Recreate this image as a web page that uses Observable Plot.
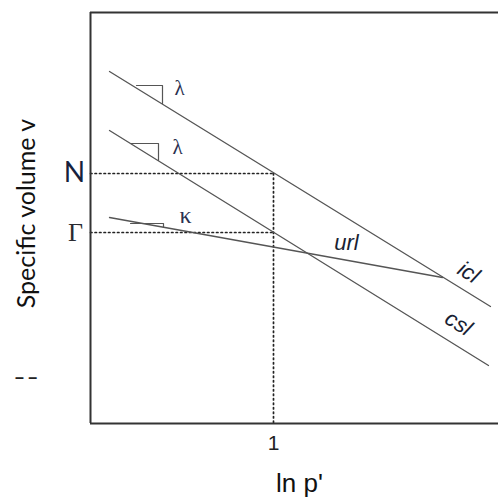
<!DOCTYPE html>
<html>
<head>
<meta charset="utf-8">
<script src="https://cdn.jsdelivr.net/npm/d3@7"></script>
<script src="https://cdn.jsdelivr.net/npm/@observablehq/plot@0.6"></script>
<style>
  html, body { margin: 0; padding: 0; background: #fff; }
  svg { display: block; }
</style>
</head>
<body>
<div id="chart"></div>
<script>
// ---- data (x = ln p', v = specific volume, arbitrary units) ----
const xDomain = [-0.83, 3.25];
const vDomain = [0, 4.11];
const xTicks = [1];
const xTickLabels = ["1"];
const vN = 2.5;       // N level
const vGamma = 1.91;  // Γ level
const pRef = 1;       // ln p' = 1
// straight lines: [x0, v0, x1, v1]
const icl = [-0.64, 3.52, 3.17, 1.17];
const csl = [-0.64, 2.93, 3.15, 0.58];
const url = [-0.64, 2.06, 2.69, 1.46];
// slope triangles: [xStart, vTop, xCorner, vBottom]
const lambdaTri1 = [-0.37, 3.38, -0.11, 3.20];
const lambdaTri2 = [-0.43, 2.80, -0.15, 2.63];
const kappaTri = [-0.43, 2.00, -0.10, 1.96];
// annotation labels: text, x, v
const greekLabels = [["λ", 0.06, 3.35], ["λ", 0.04, 2.76], ["κ", 0.12, 2.08]];
const lineLabels = [["url", 1.73, 1.81, 0], ["icl", 2.95, 1.51, 32], ["csl", 2.85, 1.0, 32]];
const levelLabels = [["N", -0.99, vN], ["Γ", -0.98, vGamma]];
const yTitle = "Specific volume v";
const xTitle = "ln p'";

const seg = (a, id) => [{x: a[0], v: a[1], id}, {x: a[2], v: a[3], id}];
const lineData = [...seg(icl, "icl"), ...seg(csl, "csl"), ...seg(url, "url")];
const tri = (t, id) => [{x: t[0], v: t[1], id}, {x: t[2], v: t[1], id}, {x: t[2], v: t[3], id}];
const triData = [...tri(lambdaTri1, "l1"), ...tri(lambdaTri2, "l2"), ...tri(kappaTri, "k")];
const dotted = [
  {x: xDomain[0], v: vN, id: "h1"}, {x: pRef, v: vN, id: "h1"},
  {x: xDomain[0], v: vGamma, id: "h2"}, {x: pRef, v: vGamma, id: "h2"},
  {x: pRef, v: vN, id: "vv"}, {x: pRef, v: vDomain[0], id: "vv"}
];

const chart = Plot.plot({
  width: 498,
  height: 500,
  marginLeft: 90,
  marginTop: 12,
  marginBottom: 77,
  marginRight: 0,
  x: {domain: xDomain},
  y: {domain: vDomain},
  style: {background: "#fff"},
  marks: [
    Plot.line(dotted, {x: "x", y: "v", z: "id", stroke: "#222", strokeWidth: 1.7, strokeDasharray: "1.5,3"}),
    Plot.line(lineData, {x: "x", y: "v", z: "id", stroke: "#555", strokeWidth: 1.3}),
    Plot.line(triData, {x: "x", y: "v", z: "id", stroke: "#555", strokeWidth: 1.2}),
    Plot.ruleX([xDomain[0]], {stroke: "#333", strokeWidth: 2}),
    Plot.ruleY([vDomain[0], vDomain[1]], {stroke: "#333", strokeWidth: 2}),
    Plot.axisX({ticks: xTicks, tickFormat: (d, i) => xTickLabels[i], tickSize: 0, tickPadding: 12,
      fontSize: 21, fontFamily: "Liberation Sans", fill: "#222", label: null}),
    Plot.axisY({ticks: [], label: null}),
    Plot.text(greekLabels.slice(0, 2), {x: d => d[1], y: d => d[2], text: d => d[0], fontSize: 21,
      fontFamily: "Liberation Serif", fill: "#2a3050"}),
    Plot.text(greekLabels.slice(2), {x: d => d[1], y: d => d[2], text: d => d[0], fontSize: 24,
      fontFamily: "Liberation Serif", fill: "#2a3050"}),
    Plot.text(lineLabels, {x: d => d[1], y: d => d[2], text: d => d[0], rotate: d => d[3], fontSize: 22,
      fontStyle: "italic", fontFamily: "Liberation Sans", fill: "#1a1f33"}),
    Plot.text(levelLabels.slice(0, 1), {x: d => d[1], y: d => d[2], text: d => d[0], fontSize: 28,
      fontFamily: "Lato", fill: "#16213d"}),
    Plot.text(levelLabels.slice(1), {x: d => d[1], y: d => d[2], text: d => d[0], fontSize: 26,
      fontFamily: "Liberation Serif", fill: "#2a2a30"}),
    Plot.text(["– –"], {x: -1.475, y: 0.46, text: d => d, fontSize: 16, fontWeight: "bold",
      fontFamily: "Liberation Sans", fill: "#222"}),
    Plot.text([yTitle], {x: -1.47, y: 2.1, text: d => d, rotate: -90, fontSize: 25,
      fontFamily: "Lato", fill: "#111"}),
    Plot.text([xTitle], {x: 1.26, y: -0.60, text: d => d, fontSize: 26,
      fontFamily: "Liberation Sans", fill: "#111"})
  ]
});
document.getElementById("chart").appendChild(chart);
</script>
</body>
</html>
